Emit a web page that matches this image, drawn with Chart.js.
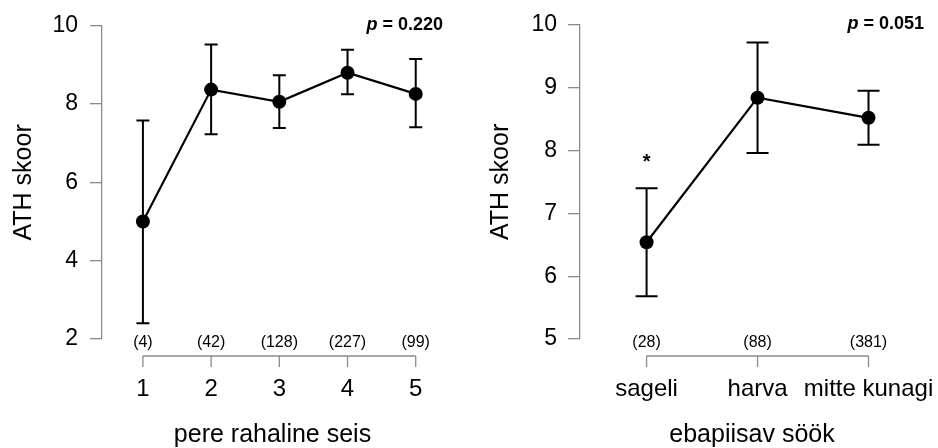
<!DOCTYPE html>
<html>
<head>
<meta charset="utf-8">
<script src="https://cdn.jsdelivr.net/npm/chart.js@4.4.0/dist/chart.umd.min.js"></script>
<style>
  body { margin: 0; background: #fff; }
  .panel { position: absolute; top: 0; width: 469px; height: 448px; }
</style>
</head>
<body>
<div class="panel" style="left:0"><canvas id="rahaline" width="469" height="448"></canvas></div>
<div class="panel" style="left:469px"><canvas id="sook" width="469" height="448"></canvas></div>
<script>
// vasak paneel: pere rahaline seis
const rahalineLabels = ['1', '2', '3', '4', '5'];
const rahalineMean = [5.0, 8.37, 8.06, 8.80, 8.26];
const rahalineLow = [2.40, 7.23, 7.39, 8.25, 7.41];
const rahalineHigh = [7.58, 9.52, 8.74, 9.39, 9.15];
const rahalineN = [4, 42, 128, 227, 99];
const rahalineStar = [false, false, false, false, false];
const rahalineP = '0.220';

// parem paneel: ebapiisav söök
const sookLabels = ['sageli', 'harva', 'mitte kunagi'];
const sookMean = [6.54, 8.84, 8.52];
const sookLow = [5.68, 7.96, 8.09];
const sookHigh = [7.40, 9.72, 8.95];
const sookN = [28, 88, 381];
const sookStar = [true, false, false];
const sookP = '0.051';

Chart.defaults.font.family = "'Liberation Sans', Arial, sans-serif";
Chart.defaults.color = '#000';

const AXIS_GREY = '#8a8a8a';

// error bars, n counts, bracket-style x axis, p value
const extras = {
    id: 'extras',
    beforeDatasetsDraw(chart, args, opts) {
        const { ctx, scales: { x, y } } = chart;
        ctx.save();
        ctx.strokeStyle = '#000';
        ctx.lineWidth = 2;
        opts.low.forEach((lo, i) => {
            const px = x.getPixelForValue(i + 1);
            const y1 = y.getPixelForValue(lo);
            const y2 = y.getPixelForValue(opts.high[i]);
            ctx.beginPath();
            ctx.moveTo(px, y1); ctx.lineTo(px, y2);
            ctx.moveTo(px - opts.cap, y1); ctx.lineTo(px + opts.cap, y1);
            ctx.moveTo(px - opts.cap, y2); ctx.lineTo(px + opts.cap, y2);
            ctx.stroke();
            if (opts.star[i]) {
                ctx.fillStyle = '#000';
                ctx.font = "bold 20px 'Liberation Sans', Arial, sans-serif";
                ctx.textAlign = 'center';
                ctx.textBaseline = 'alphabetic';
                ctx.fillText('*', px, y2 - 20);
            }
        });
        ctx.restore();
    },
    afterDraw(chart, args, opts) {
        const { ctx, chartArea, scales: { x } } = chart;
        const first = x.getPixelForValue(1);
        const last = x.getPixelForValue(opts.n.length);
        const lineY = chartArea.bottom + 17;
        ctx.save();
        ctx.strokeStyle = AXIS_GREY;
        ctx.lineWidth = 1.3;
        ctx.beginPath();
        ctx.moveTo(first, lineY); ctx.lineTo(last, lineY);
        opts.n.forEach((n, i) => {
            const px = x.getPixelForValue(i + 1);
            ctx.moveTo(px, lineY); ctx.lineTo(px, lineY + 11);
        });
        ctx.stroke();

        ctx.fillStyle = '#000';
        ctx.font = "16px 'Liberation Sans', Arial, sans-serif";
        ctx.textAlign = 'center';
        ctx.textBaseline = 'middle';
        opts.n.forEach((n, i) => {
            ctx.fillText('(' + n + ')', x.getPixelForValue(i + 1), chartArea.bottom + 4);
        });

        // p value, right aligned at the plot edge
        const rest = ' = ' + opts.p;
        ctx.textAlign = 'right';
        ctx.font = "bold 18px 'Liberation Sans', Arial, sans-serif";
        const restW = ctx.measureText(rest).width;
        ctx.fillText(rest, chartArea.right, chartArea.top - 1);
        ctx.font = "italic bold 18px 'Liberation Sans', Arial, sans-serif";
        ctx.fillText('p', chartArea.right - restW, chartArea.top - 1);
        ctx.restore();
    }
};

function makePanel(id, labels, mean, low, high, n, star, p, yMin, yMax, yStep, xMax, yWidth, padRight, titlePad, labelPad, cap) {
    const ctx = document.getElementById(id).getContext('2d');
    return new Chart(ctx, {
        type: 'line',
        data: {
            datasets: [{
                data: mean.map((m, i) => ({ x: i + 1, y: m })),
                borderColor: '#000',
                borderWidth: 2.2,
                pointRadius: 7,
                pointBackgroundColor: '#000',
                pointBorderWidth: 0,
                tension: 0
            }]
        },
        options: {
            responsive: false,
            animation: false,
            layout: { padding: { top: 20, right: padRight, bottom: 0, left: 0 } },
            plugins: {
                legend: { display: false },
                tooltip: { enabled: false },
                extras: { low: low, high: high, n: n, star: star, p: p, cap: cap }
            },
            scales: {
                x: {
                    type: 'linear',
                    min: 0.4,
                    max: xMax,
                    afterBuildTicks: (axis) => {
                        axis.ticks = labels.map((l, i) => ({ value: i + 1 }));
                    },
                    afterFit: (axis) => {
                        axis.height = 109;
                        axis.paddingLeft = 0;
                        axis.paddingRight = 0;
                    },
                    border: { display: false },
                    grid: { display: false },
                    ticks: {
                        autoSkip: false,
                        maxRotation: 0,
                        padding: 28,
                        font: { size: 24 },
                        callback: (v) => labels[Math.round(v) - 1]
                    },
                    title: {
                        display: true,
                        text: id === 'rahaline' ? 'pere rahaline seis' : 'ebapiisav söök',
                        font: { size: 25, lineHeight: 1 },
                        padding: { top: 0, bottom: 0 }
                    }
                },
                y: {
                    min: yMin,
                    max: yMax,
                    afterFit: (axis) => { axis.width = yWidth; },
                    border: { color: AXIS_GREY, width: 1.3 },
                    grid: { drawOnChartArea: false, tickLength: 12, color: AXIS_GREY, lineWidth: 1.3 },
                    ticks: { stepSize: yStep, padding: labelPad, font: { size: 23 } },
                    title: {
                        display: true,
                        text: 'ATH skoor',
                        font: { size: 25, lineHeight: 1 },
                        padding: { top: titlePad, bottom: 0 }
                    }
                }
            }
        },
        plugins: [extras]
    });
}

makePanel('rahaline', rahalineLabels, rahalineMean, rahalineLow, rahalineHigh, rahalineN, rahalineStar, rahalineP,
    2, 10, 2, 5.4, 102, 26, 12, 12, 6.5);
makePanel('sook', sookLabels, sookMean, sookLow, sookHigh, sookN, sookStar, sookP,
    5, 10, 1, 3.5, 111, 14, 20, 11, 11);
</script>
</body>
</html>
